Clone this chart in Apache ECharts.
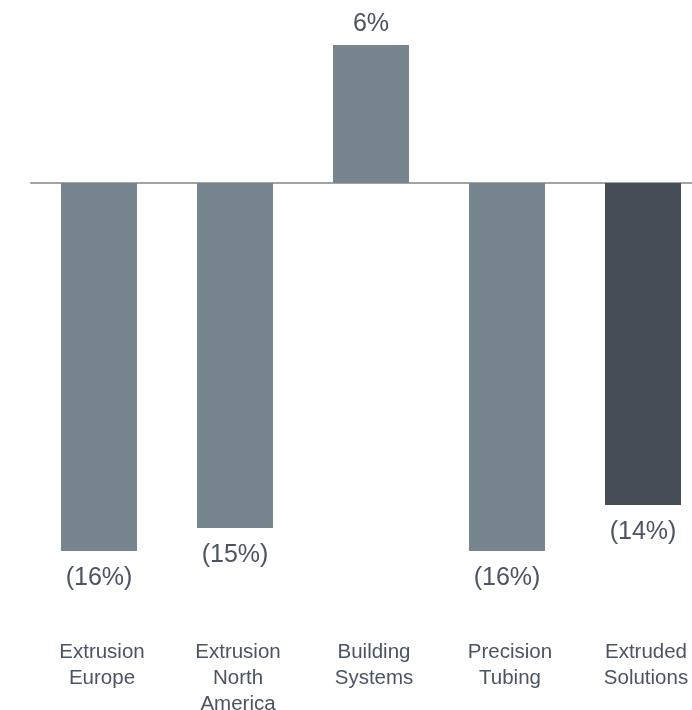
<!DOCTYPE html>
<html>
<head>
<meta charset="utf-8">
<script src="https://cdn.jsdelivr.net/npm/echarts@6/dist/echarts.min.js"></script>
<style>html,body{margin:0;padding:0;background:#fff;}#c{width:692px;height:710px;}</style>
</head>
<body>
<div id="c"></div>
<script>
const categories = ["Extrusion\nEurope", "Extrusion\nNorth\nAmerica", "Building\nSystems", "Precision\nTubing", "Extruded\nSolutions"];
const values = [-16, -15, 6, -16, -14];
const barColors = ["#77858f", "#77858f", "#77858f", "#77858f", "#454d56"];

function fmt(v) { return v < 0 ? "(" + Math.abs(v) + "%)" : v + "%"; }

const chart = echarts.init(document.getElementById('c'), null, {renderer: 'canvas'});
chart.setOption({
  animation: false,
  backgroundColor: '#ffffff',
  grid: {left: 31, top: 45, right: -19, bottom: 159, outerBoundsMode: 'none', containLabel: false},
  xAxis: [
    {type: 'category', data: categories, axisLine: {onZero: true, lineStyle: {color: '#a3a3a3', width: 2}},
     axisTick: {show: false}, axisLabel: {show: false}},
    {type: 'category', data: categories, position: 'bottom', axisLine: {show: false}, axisTick: {show: false},
     axisLabel: {margin: 88, color: '#4a5462', fontSize: 20.5, lineHeight: 26, padding: [0, 0, 0, 6],
       fontFamily: 'Liberation Sans, Arial, sans-serif', interval: 0}}
  ],
  yAxis: {type: 'value', min: -16, max: 6, show: false, splitLine: {show: false}},
  series: [{
    type: 'bar',
    xAxisIndex: 0,
    barWidth: 76,
    data: values.map((v, i) => ({
      value: v,
      itemStyle: {color: barColors[i]},
      label: {position: v < 0 ? 'bottom' : 'top', distance: v < 0 ? 12 : 6}
    })),
    label: {show: true, color: '#4a5462', fontSize: 25, lineHeight: 30,
      fontFamily: 'Liberation Sans, Arial, sans-serif', formatter: p => fmt(p.value)}
  }]
});
</script>
</body>
</html>
